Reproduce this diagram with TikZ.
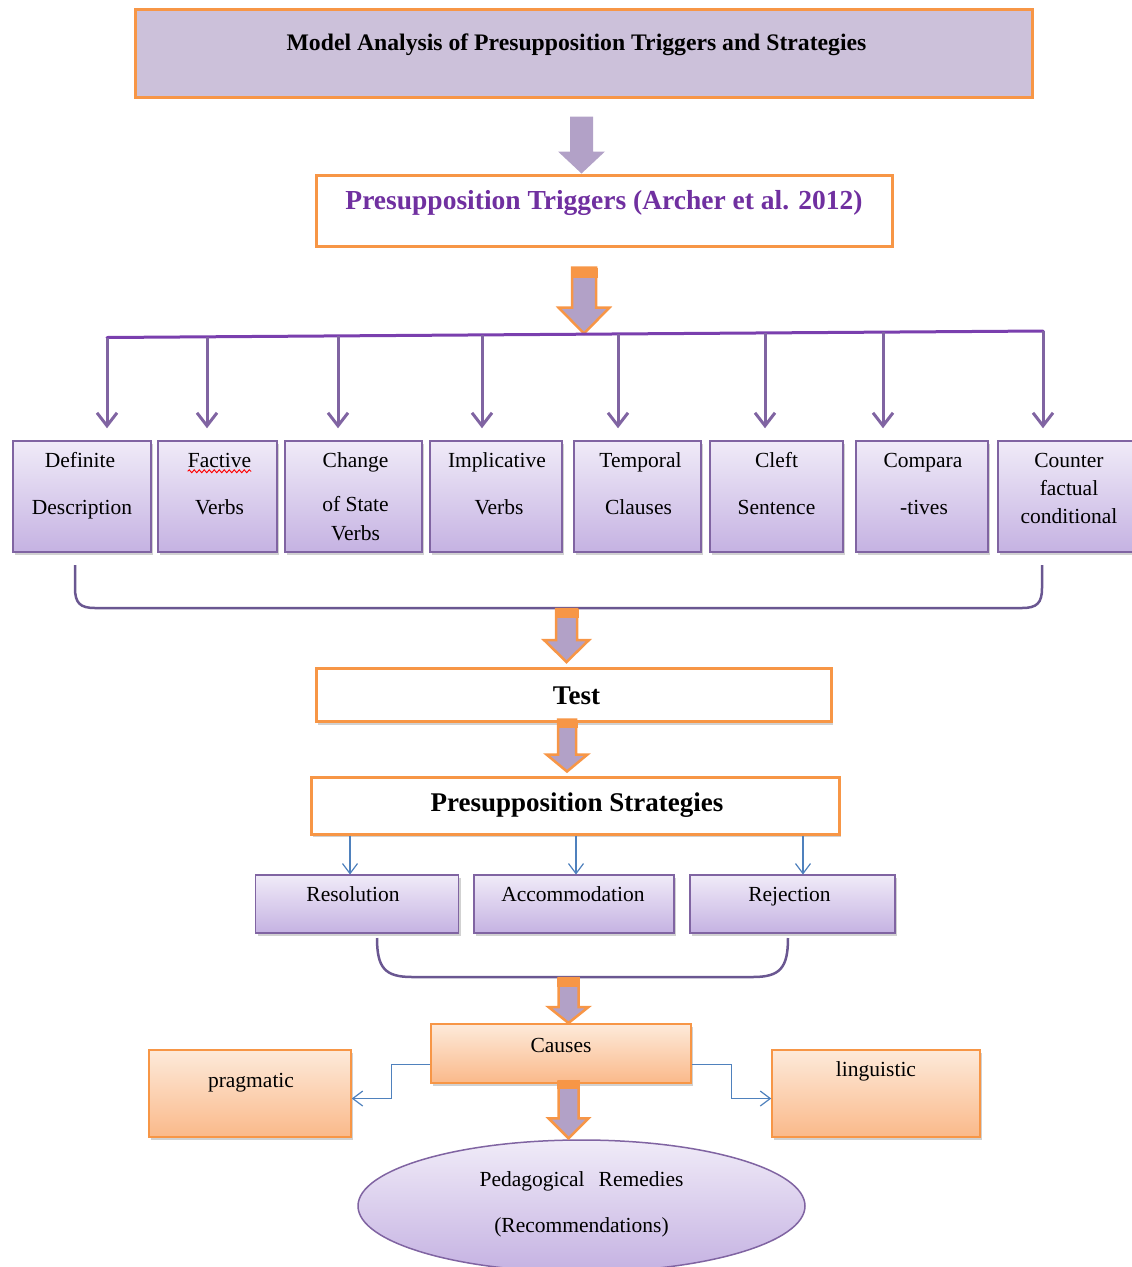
\documentclass[tikz,border=0pt]{standalone}
\usepackage{fontspec}
\setmainfont{Liberation Serif}
\usetikzlibrary{calc,shapes.geometric,shadows,arrows.meta,decorations.pathmorphing}

\definecolor{org}{HTML}{F79646}
\definecolor{lavtop}{HTML}{CCC1DA}
\definecolor{arrfill}{HTML}{B2A1C7}
\definecolor{purptext}{HTML}{7030A0}
\definecolor{purpline}{HTML}{8064A2}
\definecolor{hlinec}{HTML}{7A3FAE}
\definecolor{bracec}{HTML}{6A5791}
\definecolor{boxtop}{HTML}{F0EBF8}
\definecolor{boxbot}{HTML}{C5B2E2}
\definecolor{blueline}{HTML}{4F81BD}
\definecolor{orgtop}{HTML}{FDEADA}
\definecolor{orgbot}{HTML}{FAB98A}

\newcommand\fatarrow[6]{%
 \path let \p1=(#1), \p2=(#2) in [#6] (\x2-#3pt,\y1) -- (\x2+#3pt,\y1) -- (\x2+#3pt,\y2+#5pt) -- (\x2+#4pt,\y2+#5pt) -- (\x2,\y2) -- (\x2-#4pt,\y2+#5pt) -- (\x2-#3pt,\y2+#5pt) -- cycle;}
\newcommand\fatband[4]{%
 \path let \p1=(#1), \p2=(#2) in [fill=org] (\x2-#3pt,\y1) rectangle (\x2+#3pt,\y1-#4pt);}

\tikzset{
 shadowed/.style={drop shadow={shadow xshift=2pt, shadow yshift=-3pt, opacity=0.3, fill=black!60}},
 lavbox/.style={draw=purpline, line width=1.5pt, top color=boxtop, bottom color=boxbot, shadowed, inner sep=0pt},
 orgbox/.style={draw=org, line width=1.5pt, top color=orgtop, bottom color=orgbot, shadowed, inner sep=0pt},
 whitebox/.style={draw=org, line width=3pt, fill=white, inner sep=0pt},
 txt/.style={inner sep=0pt, anchor=base, font=\fontsize{21.5}{26}\selectfont},
 btxt/.style={inner sep=0pt, font=\bfseries\fontsize{27}{32}\selectfont},
 varrow/.style={draw=purpline, line width=3pt, -{Straight Barb[length=13pt,width=20pt]}},
 barrow/.style={draw=blueline, line width=1.2pt, -{Straight Barb[length=10pt,width=15pt]}},
 bracel/.style={draw=bracec, line width=2.5pt},
 orgarrow/.style={fill=arrfill, draw=org, line width=2.5pt, line join=miter},
 plainarrow/.style={fill=arrfill},
}

\begin{document}
\begin{tikzpicture}[x=1pt,y=-1pt]
\useasboundingbox (0,0) rectangle (1132,1267);

% title
\node[draw=org, line width=3pt, fill=lavtop, minimum width=897pt, minimum height=88pt, inner sep=0pt] (title) at (583.5,53) {};
\node[inner sep=0pt, anchor=base, font=\bfseries\fontsize{23.7}{28}\selectfont] (titletxt) at ($(title.north)+(-7,43)$) {Model Analysis of Presupposition Triggers and Strategies};

% triggers box
\node[whitebox, minimum width=576pt, minimum height=71pt] (trig) at (604,210.5) {};
\node[inner sep=0pt, anchor=base, text=purptext, font=\bfseries\fontsize{27.5}{32}\selectfont] (trigtxt) at ($(trig.north)+(0,36)$) {Presupposition Triggers (Archer et al. 2012)};

% arrow 1
\coordinate (a1s) at ($(title.south)+(-2,18)$);
\coordinate (a1t) at (a1s |- trig.north);
\fatarrow{a1s}{a1t}{11.5}{23.5}{22}{plainarrow}

% arrow 2
\coordinate (a2s) at ($(trig.south)+(-20,20)$);
\coordinate (hub) at (584,333.5);
\fatarrow{a2s}{hub}{12}{25.5}{26}{orgarrow}
\fatband{a2s}{hub}{13.5}{10}

% trigger boxes
\node[lavbox, minimum width=138pt, minimum height=111pt] (def) at (82,496.5) {};
\node[lavbox, minimum width=119pt, minimum height=111pt] (fac) at (217.5,496.5) {};
\node[lavbox, minimum width=137pt, minimum height=111pt] (chg) at (353.5,496.5) {};
\node[lavbox, minimum width=132pt, minimum height=111pt] (imp) at (496,496.5) {};
\node[lavbox, minimum width=127pt, minimum height=111pt] (tmp) at (637.5,496.5) {};
\node[lavbox, minimum width=133pt, minimum height=111pt] (clf) at (776.5,496.5) {};
\node[lavbox, minimum width=132pt, minimum height=111pt] (cmp) at (922,496.5) {};
\node[lavbox, minimum width=138pt, minimum height=111pt] (cnt) at (1067,496.5) {};

\node[txt] (def1) at ($(def.north)+(-2,27)$) {Definite};
\node[txt] (def2) at ($(def.north)+(0,74)$) {Description};
\node[txt] (fac1) at ($(fac.north)+(2,27)$) {Factive};
\node[txt] (fac2) at ($(fac.north)+(2,74)$) {Verbs};
\draw[red, line width=0.9pt, decorate, decoration={snake, amplitude=1.5pt, segment length=5pt}] ($(fac1.base west)+(0,4)$) -- ($(fac1.base east)+(0,4)$);
\node[txt] (chg1) at ($(chg.north)+(2,27)$) {Change};
\node[txt] (chg2) at ($(chg.north)+(2,71)$) {of State};
\node[txt] (chg3) at ($(chg.north)+(2,100)$) {Verbs};
\node[txt] (imp1) at ($(imp.north)+(1,27)$) {Implicative};
\node[txt] (imp2) at ($(imp.north)+(3,74)$) {Verbs};
\node[txt] (tmp1) at ($(tmp.north)+(3,27)$) {Temporal};
\node[txt] (tmp2) at ($(tmp.north)+(1,74)$) {Clauses};
\node[txt] (clf1) at ($(clf.north)+(0,27)$) {Cleft};
\node[txt] (clf2) at ($(clf.north)+(0,74)$) {Sentence};
\node[txt] (cmp1) at ($(cmp.north)+(1,27)$) {Compara};
\node[txt] (cmp2) at ($(cmp.north)+(2,74)$) {-tives};
\node[txt] (cnt1) at ($(cnt.north)+(2,27)$) {Counter};
\node[txt] (cnt2) at ($(cnt.north)+(2,55)$) {factual};
\node[txt] (cnt3) at ($(cnt.north)+(2,83)$) {conditional};

% distribution line and arrows
\coordinate (v1) at (107,337.5);
\coordinate (v2) at (207,336.8);
\coordinate (v3) at (338,335.9);
\coordinate (v4) at (482,334.9);
\coordinate (v5) at (618,333.9);
\coordinate (v6) at (765,332.9);
\coordinate (v7) at (883,332.1);
\coordinate (v8) at (1043,331);
\draw[draw=hlinec, line width=3pt, line cap=round] (v1) -- (v8);
\draw[varrow, shorten >=12pt] (v1) -- (v1 |- def.north);
\draw[varrow, shorten >=12pt] (v2) -- (v2 |- fac.north);
\draw[varrow, shorten >=12pt] (v3) -- (v3 |- chg.north);
\draw[varrow, shorten >=12pt] (v4) -- (v4 |- imp.north);
\draw[varrow, shorten >=12pt] (v5) -- (v5 |- tmp.north);
\draw[varrow, shorten >=12pt] (v6) -- (v6 |- clf.north);
\draw[varrow, shorten >=12pt] (v7) -- (v7 |- cmp.north);
\draw[varrow, shorten >=12pt] (v8) -- (v8 |- cnt.north);

% brace 1
\coordinate (b1l) at (75,565);
\coordinate (b1r) at (1042,565);
\draw[bracel] (b1l) -- (75,588) .. controls (75,603) and (80,608) .. (95,608) -- (1022,608) .. controls (1037,608) and (1042,603) .. (1042,588) -- (b1r);

% test and strategies
\node[whitebox, shadowed, minimum width=515pt, minimum height=53pt] (test) at (573.5,695) {};
\node[btxt] (testtxt) at ($(test.center)+(3,1)$) {Test};
\node[whitebox, shadowed, minimum width=528pt, minimum height=57pt] (strat) at (575,805.5) {};
\node[btxt, anchor=base] (strattxt) at ($(strat.north)+(2,36)$) {Presupposition Strategies};

\coordinate (a3t) at ($(test.north)+(-7,-5)$);
\coordinate (a3s) at ($(a3t)+(0,-53)$);
\fatarrow{a3s}{a3t}{10.5}{22.5}{22}{orgarrow}
\fatband{a3s}{a3t}{12}{9}

\coordinate (a4s) at ($(test.south)+(-6.5,-3.5)$);
\coordinate (a4t) at ($(a4s |- strat.north)+(0,-4)$);
\fatarrow{a4s}{a4t}{9}{20.5}{17}{orgarrow}
\fatband{a4s}{a4t}{10.5}{8}

% strategy boxes
\node[lavbox, minimum width=203pt, minimum height=58pt] (res) at (357,904) {};
\node[lavbox, minimum width=200pt, minimum height=58pt] (acc) at (574,904) {};
\node[lavbox, minimum width=205pt, minimum height=58pt] (rej) at (792.5,904) {};
\node[txt] (restxt) at ($(res.north)+(-4,27)$) {Resolution};
\node[txt] (acctxt) at ($(acc.north)+(-1,27)$) {Accommodation};
\node[txt] (rejtxt) at ($(rej.north)+(-3,27)$) {Rejection};

\draw[barrow] ($(strat.south)+(-225,0)$) -- ($(strat.south)+(-225,39)$);
\draw[barrow] ($(strat.south)+(1,0)$) -- ($(strat.south)+(1,39)$);
\draw[barrow] ($(strat.south)+(228,0)$) -- ($(strat.south)+(228,39)$);

% brace 2
\coordinate (b2l) at (377,938);
\coordinate (b2r) at (788,938);
\draw[bracel] (b2l) .. controls (377,968) and (385,977) .. (412,977) -- (753,977) .. controls (780,977) and (788,968) .. (b2r);

\coordinate (a5s) at (568.5,978);
\coordinate (a5t) at (568.5,1023);

% causes
\node[orgbox, minimum width=260pt, minimum height=59pt] (causes) at (561,1053.5) {};
\node[txt] (causestxt) at ($(causes.north)+(0,29)$) {Causes};
\node[orgbox, minimum width=202pt, minimum height=87pt] (prag) at (250,1093.5) {};
\node[txt] (pragtxt) at ($(prag.north)+(1,38)$) {pragmatic};
\node[orgbox, minimum width=208pt, minimum height=87pt] (ling) at (876,1093.5) {};
\node[txt] (lingtxt) at ($(ling.north)+(0,27)$) {linguistic};

\fatarrow{a5s}{a5t}{10}{20}{16}{orgarrow}
\fatband{a5s}{a5t}{11.5}{9}

\draw[barrow] ([yshift=-11pt]causes.west) -- ++(-39,0) |- ([yshift=-5pt]prag.east);
\draw[barrow] ([yshift=-11pt]causes.east) -- ++(40,0) |- ([yshift=-5pt]ling.west);

% ellipse
\node[ellipse, draw=purpline, line width=1.5pt, top color=boxtop, bottom color=boxbot, minimum width=447pt, minimum height=132pt, inner sep=0pt] (ell) at (581.5,1206) {};
\node[txt] (ell1) at ($(ell.north)+(0,47)$) {Pedagogical\hspace{14pt}Remedies};
\node[txt] (ell2) at ($(ell.north)+(0,93)$) {(Recommendations)};

\coordinate (a6s) at ($(causes.south)+(7.5,-2.5)$);
\coordinate (a6t) at ($(a6s |- ell.north)+(0,-1)$);
\fatarrow{a6s}{a6t}{10}{20}{20}{orgarrow}
\fatband{a6s}{a6t}{11.5}{8}
\end{tikzpicture}
\end{document}
